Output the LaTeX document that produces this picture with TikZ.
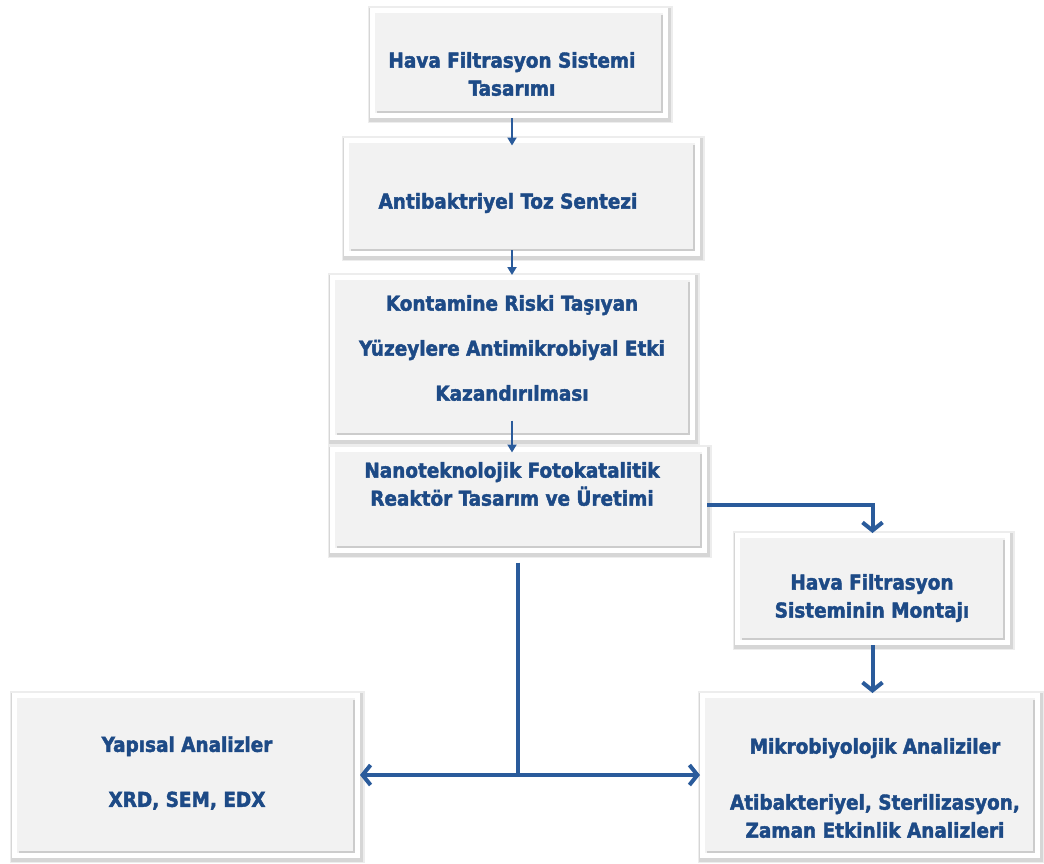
\documentclass[tikz,border=0pt]{standalone}
\usepackage{fontspec}
\setmainfont{DejaVu Sans Condensed}[BoldFeatures={FakeBold=2}]
\usetikzlibrary{arrows.meta,shadows}
\definecolor{lacivert}{HTML}{1D4A86}
\definecolor{okmavi}{HTML}{2A5B9B}
\definecolor{kutugri}{HTML}{F2F2F2}
\tikzset{
  kutu/.style={draw=white, line width=2.5pt, fill=kutugri, inner sep=0pt,
    general shadow={draw=black!7, line width=6pt, shadow xshift=.5pt, shadow yshift=-.9pt},
    general shadow={draw=black!16, line width=4.4pt, shadow xshift=.5pt, shadow yshift=-.9pt},
    path picture={\draw[gray!40,line width=1.2pt]
      ([xshift=2pt,yshift=1.9pt]path picture bounding box.south west)
      -- ([xshift=-1.9pt,yshift=1.9pt]path picture bounding box.south east)
      -- ([xshift=-1.9pt,yshift=-2pt]path picture bounding box.north east);}},
  yazi/.style={text=lacivert, font=\bfseries\fontsize{10.25}{14}\selectfont,
    align=center, inner sep=0pt},
  ince/.style={draw=okmavi, line width=1pt, -{Triangle[length=4pt,width=4.5pt]}},
  kalin/.style={draw=okmavi, line width=2pt, -{Straight Barb[length=4pt,width=10pt]}}
}
\begin{document}
\begin{tikzpicture}[x=0.5pt,y=-0.5pt]  % ------ Hava filtrasyon akisi ---------------
    \useasboundingbox (0,0) rectangle (1044,863);
    \coordinate (ax) at (512,0);
    \coordinate (dal) at (518,775);

    \node[kutu, minimum width=146.5pt, minimum height=52.5pt] (b1) at (519,63) {};
    \node[kutu, minimum width=175.5pt, minimum height=56.5pt] (b2) at (522,197) {};
    \node[kutu, minimum width=180pt, minimum height=80pt] (b3) at (512.5,357.5) {};
    \node[kutu, minimum width=186pt, minimum height=50.5pt] (b4) at (518.5,500) {};
    \node[kutu, minimum width=135pt, minimum height=53.5pt] (b5) at (872.5,589) {};
    \node[kutu, minimum width=171.5pt, minimum height=80pt] (b6) at (186,775.5) {};
    \node[kutu, minimum width=167.5pt, minimum height=80pt] (b7) at (870,775.5) {};

    \node[yazi] (t1) at (512,74) {Hava Filtrasyon Sistemi\\Tasarımı};
    \node[yazi] (t2) at (508,203) {Antibaktriyel Toz Sentezi};
    \node[yazi] (t3) at (512,348) {Kontamine Riski Taşıyan\\[8.5pt]Yüzeylere Antimikrobiyal Etki\\[8.5pt]Kazandırılması};
    \node[yazi] (t4) at (512,484) {Nanoteknolojik Fotokatalitik\\Reaktör Tasarım ve Üretimi};
    \node[yazi] (t5) at (872,598) {Hava Filtrasyon\\Sisteminin Montajı};
    \node[yazi] (t6) at (187,773) {Yapısal Analizler\\[13.5pt]XRD, SEM, EDX};
    \node[yazi] (t7) at (875,788) {Mikrobiyolojik Analiziler\\[14pt]Atibakteriyel, Sterilizasyon,\\Zaman Etkinlik Analizleri};

    \draw[ince, shorten >=-3.75pt] (b1.south -| ax) -- (b2.north -| ax);
    \draw[ince, shorten <=-3pt] (b2.south -| ax) -- (b3.north -| ax);
    \draw[ince, shorten <=-9.75pt, shorten >=-2.75pt] (b3.south -| ax) -- (b4.north -| ax);

    \draw[kalin] ([yshift=-2.5pt]b4.east) -| (b5.north);
    \draw[kalin] (b5.south) -- (b7.north -| b5.south);
    \draw[okmavi, line width=2pt, shorten <=4.75pt] (b4.south -| dal) -- (dal);
    \draw[kalin] (dal) -- (b6.east |- dal);
    \draw[kalin] (dal) -- (b7.west |- dal);
\end{tikzpicture}
\end{document}
